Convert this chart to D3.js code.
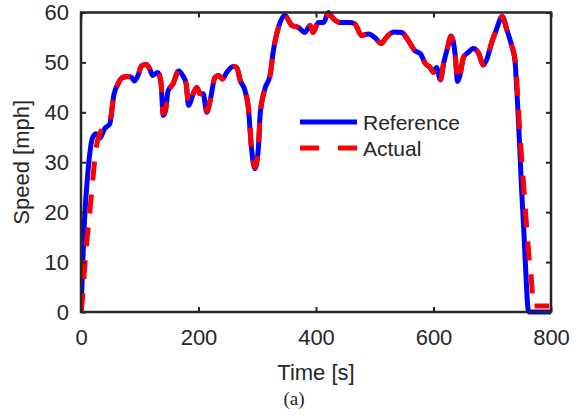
<!DOCTYPE html>
<html>
<head>
<meta charset="utf-8">
<script src="https://cdn.jsdelivr.net/npm/d3@7"></script>
<style>
  html, body { margin: 0; padding: 0; background: #fff; }
  svg { display: block; }
  text { font-family: "Liberation Sans", Arial, Helvetica, sans-serif; fill: #262626; }
</style>
</head>
<body>
<svg id="chart" width="583" height="416"></svg>
<script>
// Reference speed profile (time in s, speed in mph)
const refTime = [0, 3, 6, 12, 20, 26, 32, 40, 49, 56, 63, 71, 80, 86, 91, 97, 103, 111, 117, 122,
  131, 136, 140, 144, 148, 157, 166, 173, 179, 183, 191, 197, 203, 208, 214, 220, 228, 234, 241, 248,
  259, 265, 271, 279, 285, 290, 296, 302, 305, 313, 322, 327, 336, 347, 359, 370, 381, 390, 395, 404,
  413, 421, 430, 441, 458, 466, 478, 489, 500, 511, 521, 533, 546, 557, 568, 578, 586, 594, 600, 605,
  612, 617, 623, 630, 637, 641, 645, 651, 659, 668, 676, 685, 691, 699, 706, 717, 725, 733, 739, 741,
  743, 747, 750, 754, 757.5, 761, 763, 780, 800];
const refSpeed = [0, 10, 18.4, 28.4, 35, 35.7, 34.8, 36.7, 37.7, 43.5, 45.7, 47, 47.2, 47, 46.3, 47.4, 49.3, 49.6, 48.7, 47.4,
  48, 46, 39.4, 40.4, 44.2, 45.8, 48.3, 47.4, 45.7, 41.4, 43.7, 45, 43.7, 43.7, 40, 42.4, 47, 47.4, 46.7, 48,
  49.2, 49, 46.4, 44.4, 40.7, 33, 28.7, 33, 39.7, 44.7, 47.5, 52, 57, 59.4, 57.4, 57, 56, 57.4, 56, 58,
  58, 60, 58.7, 58, 58, 57.7, 55.4, 55.7, 55, 53.8, 55.2, 56.1, 56, 54.4, 52.4, 51.7, 49.8, 49, 48, 49,
  46.5, 49.7, 52.5, 55.3, 51.4, 46.2, 47.4, 51, 52, 52.8, 52, 49.5, 50.7, 54, 56.2, 59.2, 56.5, 53.4, 50, 46,
  42, 32.4, 24.4, 15.7, 7, 0.5, 0, 0, 0];

// Measured (actual) speed
const actTime = [0, 2, 5, 9, 15, 20, 26, 31, 37, 49, 56, 63, 71, 80, 86, 91, 97, 103, 111, 117, 122,
  131, 136, 140, 144, 148, 157, 166, 173, 179, 183, 191, 197, 203, 208, 214, 220, 228, 234, 241, 248,
  259, 265, 271, 279, 285, 290, 296, 302, 305, 313, 322, 327, 336, 347, 359, 370, 381, 390, 395, 404,
  413, 421, 430, 441, 458, 466, 478, 489, 500, 511, 521, 533, 546, 557, 568, 578, 586, 594, 600, 605,
  612, 617, 623, 630, 637, 641, 645, 651, 659, 668, 676, 685, 691, 699, 706, 717, 725, 733, 739, 743,
  747, 749, 753, 756, 760, 763, 767, 770, 797];
const actSpeed = [0, 2, 7, 13, 20, 26.4, 33, 35.5, 36.7, 38.2, 43.3, 45.7, 47, 47.2, 47, 46.5, 47.4, 49.3, 49.6, 48.7, 47.4,
  48, 46.2, 39.8, 40.6, 44, 45.8, 48.3, 47.4, 45.7, 41.6, 43.7, 45, 43.7, 43.7, 40.2, 42.4, 47, 47.4, 46.7, 48,
  49.2, 49, 46.4, 44.4, 40.9, 33.2, 29, 33, 39.5, 44.7, 47.5, 52, 57, 59.4, 57.4, 57, 56, 57.4, 56, 58,
  58, 59.8, 58.7, 58, 58, 57.7, 55.4, 55.7, 55, 53.8, 55.2, 56.1, 56, 54.4, 52.4, 51.7, 49.8, 49, 48, 49,
  46.6, 49.7, 52.5, 55.2, 51.4, 46.4, 47.4, 51, 52, 52.8, 52, 49.5, 50.7, 54, 56.2, 59.2, 56.5, 53.4, 50.5, 44,
  36, 32.4, 26, 21, 15, 10.5, 6, 1.2, 1.2];

const xTicks = [0, 200, 400, 600, 800];
const yTicks = [0, 10, 20, 30, 40, 50, 60];
const seriesNames = ["Reference", "Actual"];
const seriesColors = ["#0000ff", "#ff0000"];

const svg = d3.select("#chart");
const plotLeft = 81, plotRight = 551, plotTop = 12.5, plotBottom = 312;
const ink = "#262626";

const x = d3.scaleLinear().domain([0, 800]).range([plotLeft, plotRight]);
const y = d3.scaleLinear().domain([0, 60]).range([plotBottom, plotTop]);

svg.append("defs").append("clipPath").attr("id", "plotClip")
  .append("rect").attr("x", plotLeft).attr("y", plotTop - 3)
  .attr("width", plotRight - plotLeft).attr("height", plotBottom - plotTop + 6);

const line = d3.line().x(d => x(d[0])).y(d => y(d[1])).curve(d3.curveMonotoneX);
const refData = refTime.map((t, i) => [t, refSpeed[i]]);
const actData = actTime.map((t, i) => [t, actSpeed[i]]);

const plot = svg.append("g").attr("clip-path", "url(#plotClip)");
plot.append("path").datum(refData).attr("d", line)
  .attr("fill", "none").attr("stroke", seriesColors[0]).attr("stroke-width", 5)
  .attr("stroke-linejoin", "round");
plot.append("path").datum(actData).attr("d", line)
  .attr("fill", "none").attr("stroke", seriesColors[1]).attr("stroke-width", 5)
  .attr("stroke-dasharray", "19,14");

// Axes: ticks point inward on all four sides
const fs = 22;
const gx = svg.append("g").attr("transform", `translate(0,${plotBottom})`)
  .call(d3.axisBottom(x).tickValues(xTicks).tickSizeInner(-5).tickSizeOuter(0).tickPadding(17));
const gxTop = svg.append("g").attr("transform", `translate(0,${plotTop})`)
  .call(d3.axisTop(x).tickValues(xTicks).tickSizeInner(-5).tickSizeOuter(0).tickFormat(""));
const gy = svg.append("g").attr("transform", `translate(${plotLeft},0)`)
  .call(d3.axisLeft(y).tickValues(yTicks).tickSizeInner(-5).tickSizeOuter(0).tickPadding(12));
const gyR = svg.append("g").attr("transform", `translate(${plotRight},0)`)
  .call(d3.axisRight(y).tickValues(yTicks).tickSizeInner(-5).tickSizeOuter(0).tickFormat(""));

[gx, gxTop, gy, gyR].forEach(g => {
  g.select(".domain").remove();
  g.selectAll(".tick line").attr("stroke", ink).attr("stroke-width", 2);
  g.selectAll(".tick text").attr("font-size", fs).attr("fill", ink)
    .style("font-family", '"Liberation Sans", Arial, sans-serif');
});

svg.append("rect").attr("x", plotLeft).attr("y", plotTop)
  .attr("width", plotRight - plotLeft).attr("height", plotBottom - plotTop)
  .attr("fill", "none").attr("stroke", ink).attr("stroke-width", 2.5);

// Axis titles
svg.append("text").attr("x", (plotLeft + plotRight) / 2).attr("y", 380)
  .attr("text-anchor", "middle").attr("font-size", fs).text("Time [s]");
svg.append("text").attr("transform", `translate(29,${(plotTop + plotBottom) / 2}) rotate(-90)`)
  .attr("text-anchor", "middle").attr("font-size", fs).text("Speed [mph]");

// Legend
const legend = svg.append("g");
seriesNames.forEach((name, i) => {
  const ly = 122 + i * 26;
  legend.append("line").attr("x1", 300).attr("x2", 357).attr("y1", ly).attr("y2", ly)
    .attr("stroke", seriesColors[i]).attr("stroke-width", 5)
    .attr("stroke-dasharray", i === 1 ? "19,19" : null);
  legend.append("text").attr("x", 363).attr("y", ly + 7.5).attr("font-size", 21).text(name);
});

// Panel caption
svg.append("text").attr("x", 294).attr("y", 405).attr("text-anchor", "middle")
  .attr("font-size", 19).style("font-family", '"Liberation Serif", "Times New Roman", serif').text("(a)");
</script>
</body>
</html>
